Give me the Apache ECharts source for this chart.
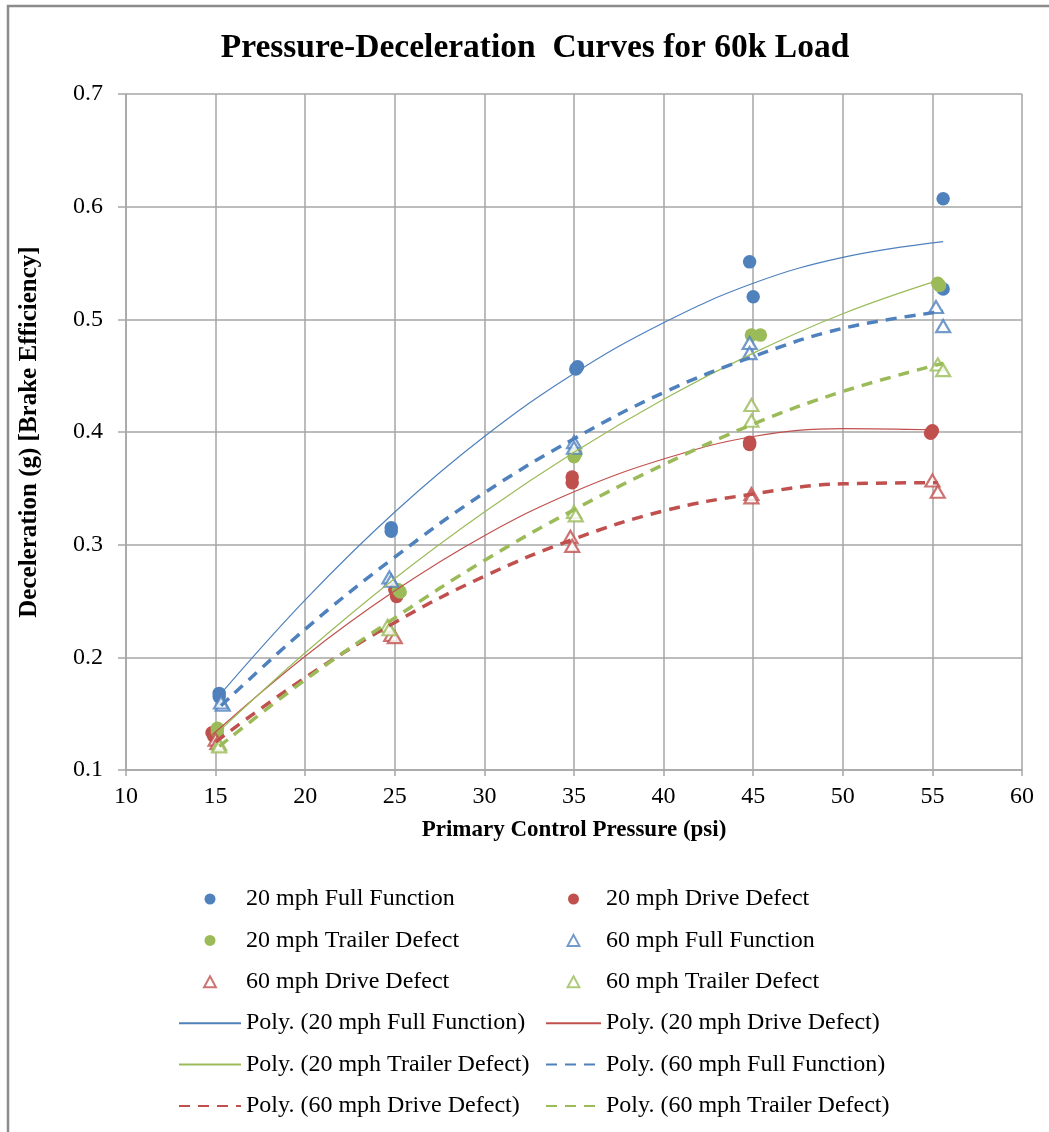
<!DOCTYPE html>
<html>
<head>
<meta charset="utf-8">
<script src="https://cdn.jsdelivr.net/npm/echarts@6/dist/echarts.min.js"></script>
<style>html,body{margin:0;padding:0;background:#fff;}#c{width:1049px;height:1132px;}</style>
</head>
<body>
<div id="c"></div>
<script>
// ---- data ----
const xTicks = [10, 15, 20, 25, 30, 35, 40, 45, 50, 55, 60];
const yTicks = [0.1, 0.2, 0.3, 0.4, 0.5, 0.6, 0.7];

const ff20 = [[15.2,0.168],[15.2,0.165],[24.8,0.315],[24.8,0.312],[35.1,0.456],[35.2,0.458],[44.8,0.551],[45.0,0.520],[55.6,0.607],[55.6,0.527]];
const dd20 = [[14.8,0.133],[14.9,0.130],[25.0,0.260],[25.1,0.254],[34.9,0.360],[34.9,0.355],[44.8,0.391],[44.8,0.389],[55.0,0.401],[54.9,0.399]];
const td20 = [[15.1,0.137],[15.1,0.134],[25.2,0.260],[25.3,0.258],[35.1,0.381],[35.0,0.378],[44.9,0.486],[45.4,0.486],[55.3,0.532],[55.4,0.530]];
const ff60 = [[15.4,0.158],[15.3,0.160],[24.7,0.271],[24.8,0.268],[35.0,0.391],[35.0,0.386],[44.8,0.479],[44.8,0.470],[55.2,0.511],[55.6,0.494]];
const dd60 = [[15.0,0.127],[15.1,0.124],[24.8,0.220],[25.0,0.218],[34.8,0.307],[34.9,0.299],[44.9,0.345],[44.9,0.342],[55.0,0.357],[55.3,0.347]];
const td60 = [[15.2,0.123],[15.2,0.121],[24.6,0.228],[24.7,0.225],[35.0,0.329],[35.1,0.326],[44.9,0.424],[44.9,0.410],[55.3,0.460],[55.6,0.455]];

// trend curves (Poly.)
const polyFF20 = [[15.2,0.166],[20,0.251],[25,0.329],[30,0.396],[35,0.452],[40,0.497],[45,0.532],[50,0.555],[55.6,0.569]];
const polyDD20 = [[14.8,0.131],[20,0.201],[25,0.259],[30,0.308],[35,0.347],[40,0.376],[45,0.396],[50,0.403],[55,0.402]];
const polyTD20 = [[15.1,0.133],[20,0.204],[25,0.270],[30,0.329],[35,0.382],[40,0.429],[45,0.470],[50,0.505],[55.4,0.535]];
const polyFF60 = [[15.3,0.157],[20,0.225],[25,0.289],[30,0.346],[35,0.394],[40,0.435],[45,0.467],[50,0.492],[55.6,0.507]];
const polyDD60 = [[15.0,0.125],[20,0.182],[25,0.231],[30,0.272],[35,0.305],[40,0.330],[45,0.345],[50,0.354],[55.3,0.355]];
const polyTD60 = [[15.2,0.121],[20,0.180],[25,0.235],[30,0.286],[35,0.331],[40,0.371],[45,0.407],[50,0.436],[55.6,0.461]];

const names = ['20 mph Full Function','20 mph Drive Defect','20 mph Trailer Defect','60 mph Full Function','60 mph Drive Defect','60 mph Trailer Defect'];
const polyNames = names.map(n => 'Poly. (' + n + ')');

// ---- styling ----
const BLUE = '#4F81BD', RED = '#C0504D', GREEN = '#9BBB59';
const FONT = '"Liberation Serif", "Times New Roman", serif';
const GRID = '#A6A6A6';
const TRI = 'path://M7,0 L14,13 L0,13 Z';

function dots(name, data, color) {
  return { name, type: 'scatter', data, symbol: 'circle', symbolSize: 13.5,
    itemStyle: { color, opacity: 1 }, z: 3 };
}
function tris(name, data, color) {
  return { name, type: 'scatter', data, symbol: TRI, symbolSize: [14, 13], symbolKeepAspect: true,
    itemStyle: { color: '#ffffff', borderColor: color, borderWidth: 2.2 }, z: 3 };
}
function trend(name, data, color, dashed) {
  return { name, type: 'line', data, smooth: 0.4, symbol: 'none', showSymbol: false, z: 4,
    lineStyle: dashed ? { color, width: 3.5, type: [11, 8], cap: 'butt' } : { color, width: 1.2 },
    itemStyle: { color } };
}
const hideDot = { color: 'rgba(0,0,0,0)', borderColor: 'rgba(0,0,0,0)', borderWidth: 0, opacity: 0 };
function legItem(n) {
  return n.startsWith('Poly.') ? { name: n, itemStyle: hideDot } : { name: n };
}

const chart = echarts.init(document.getElementById('c'), null, { renderer: 'canvas' });
const legendText = { fontFamily: FONT, fontSize: 24, color: '#000', lineHeight: 24 };
chart.setOption({
  animation: false,
  backgroundColor: '#fff',
  graphic: [{ type: 'rect', shape: { x: 8, y: 6, width: 1200, height: 1300 },
    style: { fill: 'none', stroke: '#8C8C8C', lineWidth: 2.5 }, silent: true }],
  title: { text: 'Pressure-Deceleration  Curves for 60k Load', left: 530, top: 26, textAlign: 'center',
    textStyle: { fontFamily: FONT, fontWeight: 'bold', fontSize: 33.5, color: '#000' } },
  grid: { left: 126, right: 27, top: 94, bottom: 362, containLabel: false },
  xAxis: { type: 'value', min: 10, max: 60, interval: 5,
    name: 'Primary Control Pressure (psi)', nameLocation: 'middle', nameGap: 49,
    nameTextStyle: { fontFamily: FONT, fontWeight: 'bold', fontSize: 23, color: '#000' },
    axisLine: { show: true, onZero: false, lineStyle: { color: GRID, width: 1.5 } },
    axisTick: { show: true, inside: false, length: 6, lineStyle: { color: GRID, width: 1.5 } },
    axisLabel: { fontFamily: FONT, fontSize: 24, color: '#000', margin: 15,
      formatter: v => xTicks.includes(v) ? String(v) : '' },
    splitLine: { show: true, lineStyle: { color: GRID, width: 1.5 } } },
  yAxis: { type: 'value', min: 0.1, max: 0.7, interval: 0.1,
    name: 'Deceleration (g) [Brake Efficiency]', nameLocation: 'middle', nameGap: 84,
    nameTextStyle: { fontFamily: FONT, fontWeight: 'bold', fontSize: 25, color: '#000' },
    axisLine: { show: true, onZero: false, lineStyle: { color: GRID, width: 1.5 } },
    axisTick: { show: true, inside: false, length: 8, lineStyle: { color: GRID, width: 1.5 } },
    axisLabel: { fontFamily: FONT, fontSize: 24, color: '#000', margin: 23,
      formatter: v => yTicks.find(t => Math.abs(t - v) < 1e-6).toFixed(1) },
    splitLine: { show: true, lineStyle: { color: GRID, width: 1.5 } } },
  legend: [
    { orient: 'vertical', left: 178, top: 887, padding: 0, itemWidth: 62, itemHeight: 11, itemGap: 17.4,
      symbolKeepAspect: true,
      data: [names[0], names[2], names[4], polyNames[0], polyNames[2], polyNames[4]].map(legItem),
      textStyle: legendText, selectedMode: false },
    { orient: 'vertical', left: 545, top: 887, padding: 0, itemWidth: 55, itemHeight: 11, itemGap: 17.4,
      symbolKeepAspect: true,
      data: [names[1], names[3], names[5], polyNames[1], polyNames[3], polyNames[5]].map(legItem),
      textStyle: legendText, selectedMode: false }
  ],
  series: [
    dots(names[0], ff20, BLUE),
    dots(names[1], dd20, RED),
    dots(names[2], td20, GREEN),
    tris(names[3], ff60, BLUE),
    tris(names[4], dd60, RED),
    tris(names[5], td60, GREEN),
    trend(polyNames[0], polyFF20, BLUE, false),
    trend(polyNames[1], polyDD20, RED, false),
    trend(polyNames[2], polyTD20, GREEN, false),
    trend(polyNames[3], polyFF60, BLUE, true),
    trend(polyNames[4], polyDD60, RED, true),
    trend(polyNames[5], polyTD60, GREEN, true)
  ]
});
</script>
</body>
</html>
